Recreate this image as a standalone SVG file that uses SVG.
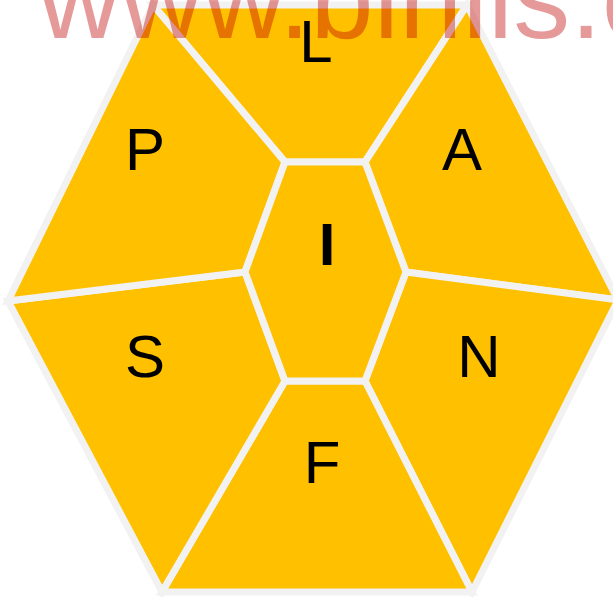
<svg xmlns="http://www.w3.org/2000/svg" width="613" height="597" viewBox="0 0 613 597">
<style>
.seg{fill:#FFC000;stroke:#F2F2F2;stroke-width:7;stroke-linejoin:miter}
.lbl{font-family:"Liberation Sans",Arial,sans-serif;font-size:60px;fill:#000;text-anchor:middle}
.wm{font-family:"Liberation Sans",Arial,sans-serif;font-size:114px;fill:#C00000;fill-opacity:0.4}
</style>
<rect width="613" height="597" fill="#FFFFFF"/>
<g id="seg-L"><polygon class="seg" points="153,5 467,5 365,162 285,162"/><text class="lbl" x="316" y="62">L</text></g>
<g id="seg-A"><polygon class="seg" points="467,5 618,300 406,272 365,162"/><text class="lbl" x="462" y="170">A</text></g>
<g id="seg-N"><polygon class="seg" points="618,300 472,592 365,381 406,272"/><text class="lbl" x="479" y="377">N</text></g>
<g id="seg-F"><polygon class="seg" points="472,592 162,592 285,381 365,381"/><text class="lbl" x="322" y="483">F</text></g>
<g id="seg-S"><polygon class="seg" points="162,592 8,301 245,272 285,381"/><text class="lbl" x="145" y="377">S</text></g>
<g id="seg-P"><polygon class="seg" points="8,301 153,5 285,162 245,272"/><text class="lbl" x="145" y="170">P</text></g>
<g id="seg-I"><polygon class="seg" points="285,162 365,162 406,272 365,381 285,381 245,272"/><text class="lbl" x="327" y="265" font-weight="bold">I</text></g>
<g id="connectors"/>
<text class="wm" x="38" y="38">www.binils.com</text>
</svg>
